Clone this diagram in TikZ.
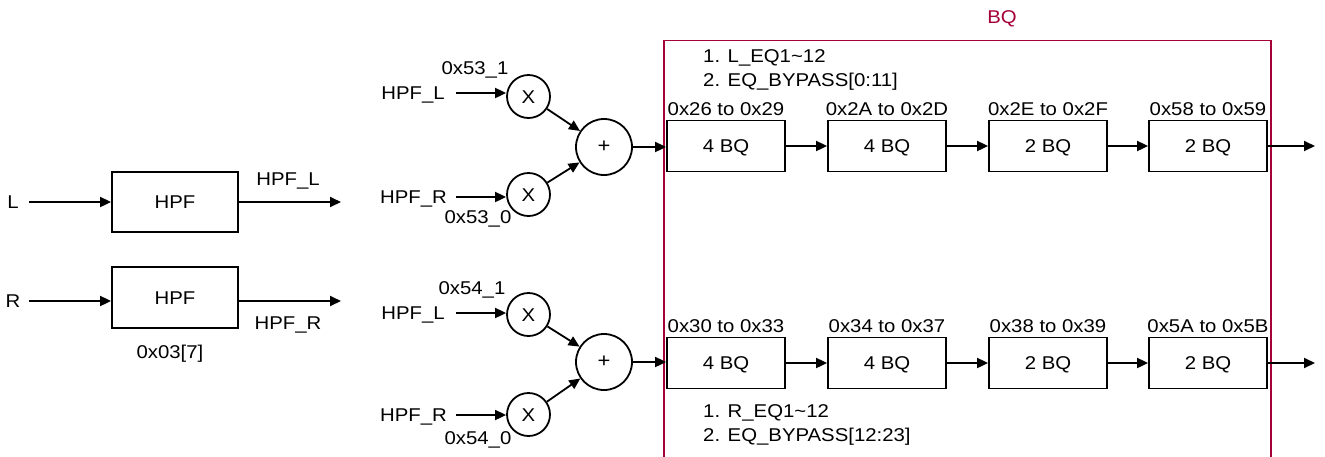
\documentclass[tikz,border=0pt]{standalone}
\usepackage{fontspec}
\setmainfont[FakeStretch=1.1]{Liberation Sans}
\usetikzlibrary{arrows.meta}
\definecolor{bqred}{HTML}{A50038}
\begin{document}
\begin{tikzpicture}[x=1pt,y=-1pt,
  txt/.style={inner sep=0pt, font=\fontsize{18.5}{22}\selectfont, text height=13.2pt, text depth=0pt},
  box/.style={txt, draw, line width=1.8pt, minimum width=118pt, minimum height=51pt},
  circ/.style={txt, draw, circle, line width=1.8pt, minimum size=43pt},
  plus/.style={draw, circle, line width=1.8pt, minimum size=56pt, inner sep=0pt, font=\fontsize{20}{22}\selectfont},
  arr/.style={line width=1.8pt, -{Triangle[length=11pt,width=10pt]}},
  frame/.style={draw=bqred, line width=1.8pt, inner sep=0pt, minimum width=607pt, minimum height=440pt, anchor=north west}
]
\useasboundingbox (0,0) rectangle (1325,456);

% ---- HPF stage
\node[txt] (L) at (13,202) {L};
\node[txt] (R) at (13,301) {R};
\node[box, minimum width=126pt, minimum height=60pt] (hpf1) at (175,202) {HPF};
\node[box, minimum width=126pt, minimum height=61pt] (hpf2) at (175,297.5) {HPF};
\coordinate (o1) at (341,202);
\coordinate (o2) at (341,301);
\draw[arr, shorten <=10pt] (L.east) -- (hpf1.west);
\draw[arr, shorten <=8pt] (R.east) -- (R.east -| hpf2.west);
\draw[arr] (hpf1.east) -- (o1);
\draw[arr] (hpf2.east |- o2) -- (o2);
\node[txt] (hpfl) at (288,179) {HPF\_L};
\node[txt] (hpfr) at (288,323) {HPF\_R};
\node[txt] (reg) at (170,352) {0x03[7]};

% ---- top mixer
\node[txt] (a1) at (413,93) {HPF\_L};
\node[circ] (x1) at (528.5,96.5) {X};
\node[txt] (k1) at (475,68) {0x53\_1};
\node[txt] (b1) at (413.5,197) {HPF\_R};
\node[circ] (x2) at (528.5,194.5) {X};
\node[txt] (k2) at (478,217) {0x53\_0};
\node[plus] (p1) at (604,147) {+};

% ---- bottom mixer
\node[txt] (a2) at (413,313) {HPF\_L};
\node[circ] (x3) at (528.5,314.5) {X};
\node[txt] (k3) at (472,288) {0x54\_1};
\node[txt] (b2) at (413.5,415) {HPF\_R};
\node[circ] (x4) at (528.5,414.5) {X};
\node[txt] (k4) at (478,438) {0x54\_0};
\node[plus] (p2) at (604,362) {+};

\draw[arr, shorten <=11.5pt] (a1.east) -- (a1.east -| x1.west);
\draw[arr, shorten <=9pt] (b1.east) -- (b1.east -| x2.west);
\draw[arr, shorten <=11.5pt] (a2.east) -- (a2.east -| x3.west);
\draw[arr, shorten <=9pt] (b2.east) -- (b2.east -| x4.west);
\draw[arr] (x1) -- (p1);
\draw[arr] (x2) -- (p1);
\draw[arr] (x3) -- (p2);
\draw[arr] (x4) -- (p2);

% ---- BQ frame
\node[frame] (fr) at (663,39.5) {};
\node[txt, text=bqred] (bqt) at (1002,17) {BQ};
\node[txt, anchor=west] (n1) at (703,56) {1. L\_EQ1\textasciitilde12};
\node[txt, anchor=west] (n2) at (703,80) {2. EQ\_BYPASS[0:11]};
\node[txt, anchor=west] (n3) at (703,411) {1. R\_EQ1\textasciitilde12};
\node[txt, anchor=west] (n4) at (703,435) {2. EQ\_BYPASS[12:23]};

% top chain
\node[box] (t1) at (726,146) {4 BQ};
\node[box] (t2) at (887,146) {4 BQ};
\node[box] (t3) at (1048,146) {2 BQ};
\node[box] (t4) at (1208,146) {2 BQ};
\node[txt, anchor=south] (tl1) at ([yshift=3.5pt]t1.north) {0x26 to 0x29};
\node[txt, anchor=south] (tl2) at ([yshift=3.5pt]t2.north) {0x2A to 0x2D};
\node[txt, anchor=south] (tl3) at ([yshift=3.5pt]t3.north) {0x2E to 0x2F};
\node[txt, anchor=south] (tl4) at ([yshift=3.5pt]t4.north) {0x58 to 0x59};
\coordinate (te) at (1315,146);
\draw[arr] (p1.east) -- (p1.east -| t1.west);
\draw[arr] (t1) -- (t2);
\draw[arr] (t2) -- (t3);
\draw[arr] (t3) -- (t4);
\draw[arr] (t4.east) -- (te);

% bottom chain
\node[box] (u1) at (726,363) {4 BQ};
\node[box] (u2) at (887,363) {4 BQ};
\node[box] (u3) at (1048,363) {2 BQ};
\node[box] (u4) at (1208,363) {2 BQ};
\node[txt, anchor=south] (ul1) at ([yshift=3.5pt]u1.north) {0x30 to 0x33};
\node[txt, anchor=south] (ul2) at ([yshift=3.5pt]u2.north) {0x34 to 0x37};
\node[txt, anchor=south] (ul3) at ([yshift=3.5pt]u3.north) {0x38 to 0x39};
\node[txt, anchor=south] (ul4) at ([yshift=3.5pt]u4.north) {0x5A to 0x5B};
\coordinate (ue) at (1315,363);
\draw[arr] (p2.east) -- (p2.east -| u1.west);
\draw[arr] (u1) -- (u2);
\draw[arr] (u2) -- (u3);
\draw[arr] (u3) -- (u4);
\draw[arr] (u4.east) -- (ue);
\end{tikzpicture}
\end{document}
